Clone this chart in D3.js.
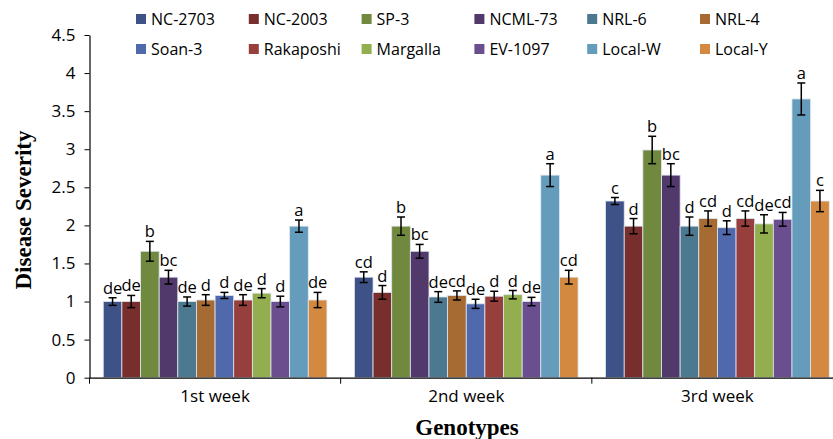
<!DOCTYPE html>
<html><head><meta charset="utf-8">
<script src="https://cdn.jsdelivr.net/npm/d3@7/dist/d3.min.js"></script>
<style>body{margin:0;background:#fff}svg{display:block}</style>
</head><body><svg id="c" width="833" height="439"></svg>
<script>
const weeks = ["1st week","2nd week","3rd week"];
const genotypes = ["NC-2703","NC-2003","SP-3","NCML-73","NRL-6","NRL-4","Soan-3","Rakaposhi","Margalla","EV-1097","Local-W","Local-Y"];
const colors = ["#3F5287","#772E2C","#71893F","#51396C","#4C7890","#A66B32","#5069AC","#963F3D","#92AE4F","#6A4E8E","#669CBB","#D38A40"];
const values1 = [1.00,1.00,1.66,1.32,1.00,1.02,1.08,1.02,1.11,1.00,1.99,1.02];
const values2 = [1.32,1.12,1.99,1.66,1.06,1.08,0.97,1.07,1.09,1.00,2.66,1.32];
const values3 = [2.32,1.99,2.99,2.66,1.99,2.09,1.97,2.09,2.02,2.08,3.66,2.32];
const errors1 = [0.05,0.08,0.13,0.09,0.06,0.07,0.04,0.07,0.06,0.07,0.08,0.10];
const errors2 = [0.07,0.09,0.12,0.09,0.07,0.06,0.06,0.065,0.055,0.055,0.15,0.09];
const errors3 = [0.046,0.10,0.18,0.15,0.12,0.10,0.09,0.10,0.12,0.09,0.21,0.14];
const letters1 = ["de","de","b","bc","de","d","d","de","d","d","a","de"];
const letters2 = ["cd","d","b","bc","de","cd","de","d","d","de","a","cd"];
const letters3 = ["c","d","b","bc","d","cd","d","cd","de","cd","a","c"];
const yTicks = [0,0.5,1,1.5,2,2.5,3,3.5,4,4.5];

const vals=[values1,values2,values3], errs=[errors1,errors2,errors3], lets=[letters1,letters2,letters3];
const svg=d3.select("#c");
const x0=d3.scaleBand().domain(weeks).range([89.5,843]).paddingInner(0).paddingOuter(0);
const innerPad=13.75;
const x1=d3.scaleBand().domain(genotypes).range([innerPad, x0.bandwidth()-innerPad]).padding(0);
const y=d3.scaleLinear().domain([0,4.5]).range([377.7,35]);
const font="'Open Sans', sans-serif";

// y axis
const ya=svg.append("g").attr("transform","translate(89.5,0)")
  .call(d3.axisLeft(y).tickValues(yTicks).tickSize(5).tickSizeOuter(0).tickFormat(d=>String(d)));
ya.select(".domain").attr("stroke","#000").attr("stroke-width",1.2);
ya.selectAll(".tick line").attr("stroke","#000");
ya.selectAll(".tick text").attr("font-family",font).attr("font-size",17).attr("fill","#000").attr("x",-14);

// bars
weeks.forEach((w,gi)=>{
  const g=svg.append("g").attr("transform",`translate(${x0(w)},0)`);
  genotypes.forEach((gn,i)=>{
    const v=vals[gi][i], e=errs[gi][i];
    const bx=x1(gn), bw=x1.bandwidth();
    g.append("rect").attr("x",bx).attr("y",y(v)).attr("width",bw).attr("height",y(0)-y(v))
      .attr("fill",colors[i]).attr("stroke","#dfe6ef").attr("stroke-width",0.8);
    const cx=bx+bw/2;
    g.append("line").attr("x1",cx).attr("x2",cx).attr("y1",y(v+e)).attr("y2",y(v-e)).attr("stroke","#000").attr("stroke-width",1.5);
    [v+e,v-e].forEach(t=>g.append("line").attr("x1",cx-4).attr("x2",cx+4).attr("y1",y(t)).attr("y2",y(t)).attr("stroke","#000").attr("stroke-width",1.5));
    g.append("text").attr("x",cx).attr("y",y(v+e)-4).attr("text-anchor","middle")
      .attr("font-family",font).attr("font-size",16.5).attr("fill","#000").text(lets[gi][i]);
  });
});

// x axis
const xa=svg.append("g").attr("transform","translate(0,377.7)")
  .call(d3.axisBottom(x0).tickSize(0).tickSizeOuter(0));
xa.select(".domain").attr("stroke","#000").attr("stroke-width",1.2);
xa.selectAll(".tick text").attr("font-family",font).attr("font-size",17).attr("fill","#000").attr("dy","0.95em").attr("y",8);
const bounds=[x0.range()[0]].concat(weeks.map(w=>x0(w)+x0.bandwidth()));
xa.selectAll(".bnd").data(bounds).enter().append("line").attr("x1",d=>d).attr("x2",d=>d).attr("y1",0).attr("y2",6).attr("stroke","#000");

// titles
svg.append("text").attr("x",467).attr("y",435).attr("text-anchor","middle")
  .attr("font-family","'Liberation Serif', serif").attr("font-weight","bold").attr("font-size",23).text("Genotypes");
svg.append("text").attr("transform","translate(31,210) rotate(-90)").attr("text-anchor","middle")
  .attr("font-family","'Liberation Serif', serif").attr("font-weight","bold").attr("font-size",23).text("Disease Severity");

// legend
const lg=svg.append("g");
genotypes.forEach((gn,i)=>{
  const col=i%6, row=Math.floor(i/6);
  const lx=136+col*112.8, ly=19+row*30;
  lg.append("rect").attr("x",lx).attr("y",ly-5).attr("width",10).attr("height",10).attr("fill",colors[i]);
  lg.append("text").attr("x",lx+15).attr("y",ly).attr("dy","0.35em").attr("font-family",font).attr("font-size",16).attr("fill","#000").text(gn);
});
</script></body></html>
